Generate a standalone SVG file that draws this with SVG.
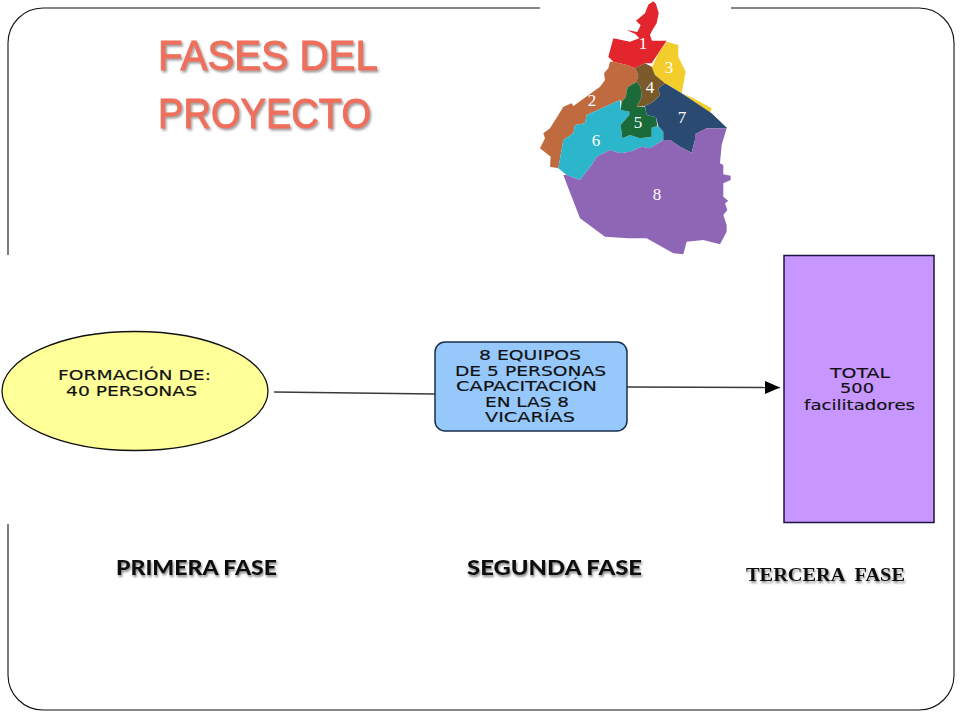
<svg xmlns="http://www.w3.org/2000/svg" width="960" height="720" viewBox="0 0 960 720">
<style>
.n{font-family:"DejaVu Sans",Verdana,sans-serif;font-size:14px;fill:#111;stroke:#111;stroke-width:.15}
.t{font-family:"Liberation Sans",Arial,sans-serif;font-size:42px;fill:#ee6f5c;stroke:#ee6f5c;stroke-width:.9;filter:url(#sg)}
.f{font-family:"Lato","Open Sans",sans-serif;font-weight:900;font-size:21px;fill:#111;filter:url(#sk)}
.s{font-family:"Liberation Serif","Times New Roman",serif;font-weight:700;font-size:19px;fill:#111;white-space:pre;filter:url(#sk)}
.m{font-family:"Liberation Serif","Times New Roman",serif;font-size:17px;fill:#fff;text-anchor:middle}
.c{fill:none;stroke:#3a3a3a;stroke-width:1.5}
</style>
<defs>
<filter id="sg" x="-5%" y="-20%" width="110%" height="140%"><feDropShadow dx="1.5" dy="2" stdDeviation="1.2" flood-color="#777" flood-opacity=".7"/></filter>
<filter id="sk" x="-5%" y="-20%" width="110%" height="150%"><feDropShadow dx="1" dy="2" stdDeviation="1" flood-color="#555" flood-opacity=".7"/></filter>
<marker id="a" markerUnits="userSpaceOnUse" markerWidth="16" markerHeight="13" refX="15" refY="6.5" orient="auto"><path d="M0 0L15 6.5L0 13Z" fill="#000"/></marker>
</defs>
<rect width="960" height="720" fill="#fff"/>
<g id="frame">
<path d="M540 8H43A35 35 0 0 0 8 43V255M8 524V675A35 35 0 0 0 43 710H919A35 35 0 0 0 954 675V43A35 35 0 0 0 919 8H731" fill="none" stroke="#111" stroke-width="1.1"/>
</g>
<g id="title">
<text class="t" x="158" y="70" textLength="220" lengthAdjust="spacingAndGlyphs">FASES DEL</text>
<text class="t" x="158" y="128" textLength="213" lengthAdjust="spacingAndGlyphs">PROYECTO</text>
</g>
<g id="map">
<g transform="translate(530 0) scale(.3333)">
<path fill="#e3252e" d="M370 4L378 12L386 40L380 70L366 92L360 105L366 122L410 122L385 160L365 190L345 190L315 205L290 195L250 185L235 170L250 115L300 125L328 115L316 102L290 90L322 96L332 76L318 62L345 40L355 14Z"/>
<path fill="#f2cd2c" d="M410 125L445 135L445 170L467 215L455 280L490 295L545 325L540 340L500 310L455 280L405 250L375 225L365 205L385 160Z"/>
<path fill="#c06a40" d="M240 185L250 185L290 195L315 205L325 225L320 245L295 260L290 270L288 290L275 305L270 300L215 325L170 345L165 370L135 375L130 400L100 420L85 505L60 500L62 470L30 445L45 415L40 400L60 385L85 345L100 320L125 310L130 318L155 300L210 260L225 240L222 220L235 205Z"/>
<path fill="#2cb6cc" d="M170 345L215 325L270 300L272 330L298 335L298 345L272 375L277 415L300 405L330 415L365 410L365 383L385 378L400 395L400 420L360 445L335 440L300 455L270 460L240 450L200 470L185 495L150 540L110 525L85 505L100 420L130 400L135 375L165 370Z"/>
<path fill="#2a4a72" d="M405 250L455 280L500 310L545 340L592 385L530 385L495 403L495 420L485 458L450 440L420 420L400 420L400 395L385 378L378 352L350 345L345 318L370 305L390 285L385 265Z"/>
<path fill="#7a5a2a" d="M315 205L345 190L365 200L375 225L405 250L385 265L390 285L370 305L345 318L320 320L335 290L332 262L320 245L325 225Z"/>
<path fill="#1a6a3a" d="M295 260L320 245L332 262L335 290L320 320L345 320L350 345L378 352L382 378L365 383L365 410L330 415L300 405L277 415L272 375L298 345L298 335L272 330L275 305L288 290L290 270Z"/>
<path fill="#8f66b5" d="M495 403L530 385L590 385L575 435L570 490L580 495L580 523L602 527L602 540L580 550L580 590L595 603L585 610L592 630L580 645L590 675L590 695L570 733L520 720L470 725L460 763L430 760L350 715L295 715L225 710L150 655L125 590L100 525L110 525L150 540L185 495L200 470L240 450L270 460L300 455L335 440L360 445L400 420L420 420L450 440L485 458L495 420Z"/>
</g>
<text class="m" x="643" y="49">1</text>
<text class="m" x="592" y="106">2</text>
<text class="m" x="669" y="73">3</text>
<text class="m" x="650" y="93">4</text>
<text class="m" x="638" y="128">5</text>
<text class="m" x="596" y="146">6</text>
<text class="m" x="682" y="123">7</text>
<text class="m" x="657" y="200">8</text>
</g>
<g id="connectors">
<path class="c" d="M274 392L435 394"/>
<path class="c" d="M627 387L780 387.5" marker-end="url(#a)"/>
</g>
<g id="n1">
<ellipse cx="135" cy="391" rx="133" ry="59.5" fill="#ffff99" stroke="#111" stroke-width="1.3"/>
<text class="n" x="58" y="380" textLength="153" lengthAdjust="spacingAndGlyphs">FORMACIÓN DE:</text>
<text class="n" x="66" y="396" textLength="131" lengthAdjust="spacingAndGlyphs">40 PERSONAS</text>
</g>
<g id="n2">
<rect x="435" y="342" width="192" height="89" rx="10" fill="#96c8fc" stroke="#18304a" stroke-width="1.5"/>
<text class="n" x="479" y="360" textLength="102" lengthAdjust="spacingAndGlyphs">8 EQUIPOS</text>
<text class="n" x="455" y="376" textLength="151" lengthAdjust="spacingAndGlyphs">DE 5 PERSONAS</text>
<text class="n" x="456" y="391" textLength="141" lengthAdjust="spacingAndGlyphs">CAPACITACIÓN</text>
<text class="n" x="485" y="407" textLength="84" lengthAdjust="spacingAndGlyphs">EN LAS 8</text>
<text class="n" x="485" y="422" textLength="90" lengthAdjust="spacingAndGlyphs">VICARÍAS</text>
</g>
<g id="n3">
<rect x="784" y="255.500" width="150" height="267" fill="#c896ff" stroke="#1c1440" stroke-width="1.5"/>
<text class="n" x="830" y="378" textLength="60" lengthAdjust="spacingAndGlyphs">TOTAL</text>
<text class="n" x="840" y="393" textLength="34" lengthAdjust="spacingAndGlyphs">500</text>
<text class="n" x="804" y="410" textLength="111" lengthAdjust="spacingAndGlyphs">facilitadores</text>
</g>
<g id="labels">
<text class="f" x="116" y="575" textLength="161" lengthAdjust="spacingAndGlyphs">PRIMERA FASE</text>
<text class="f" x="467" y="575" textLength="175" lengthAdjust="spacingAndGlyphs">SEGUNDA FASE</text>
<text class="s" x="746" y="581" textLength="159" lengthAdjust="spacingAndGlyphs">TERCERA  FASE</text>
</g>
</svg>
